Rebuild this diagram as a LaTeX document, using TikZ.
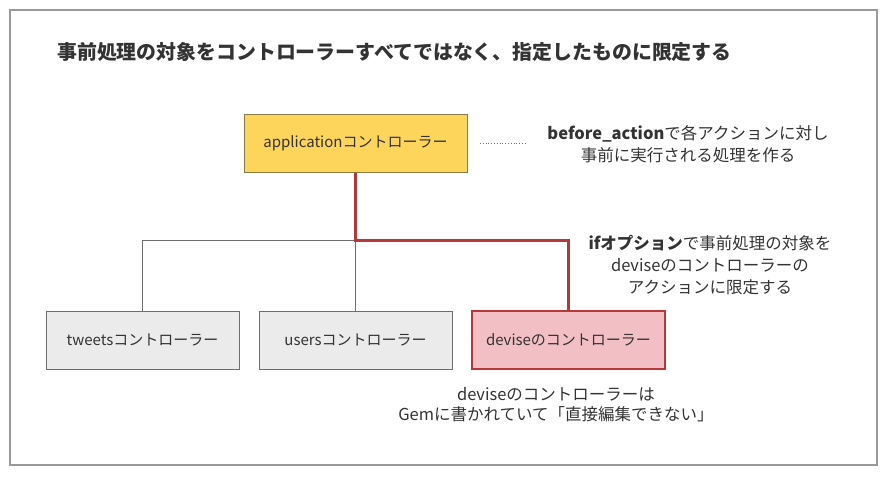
\documentclass[tikz,border=0pt]{standalone}
\usepackage{fontspec}
\setmainfont{Noto Sans CJK JP}
\definecolor{appfill}{HTML}{FCD55A}
\definecolor{appdraw}{HTML}{8C7A45}
\definecolor{grayfill}{HTML}{EBEBEB}
\definecolor{graydraw}{HTML}{6E6E6E}
\definecolor{pinkfill}{HTML}{F2BFC4}
\definecolor{reddraw}{HTML}{B5373A}
\definecolor{txt}{HTML}{333333}
\tikzset{
  box/.style={draw=graydraw, fill=grayfill, line width=1pt, minimum width=193pt, minimum height=58pt, inner sep=0pt, text=txt, font=\fontsize{15}{17}\selectfont},
  appbox/.style={box, draw=appdraw, fill=appfill, minimum width=223pt},
  devbox/.style={box, draw=reddraw, fill=pinkfill, line width=2pt},
  note/.style={align=center, text=txt, font=\fontsize{16.5}{22}\selectfont, inner sep=0pt},
  redline/.style={draw=reddraw, line width=3pt},
  grayline/.style={draw=graydraw, line width=1pt}
}
\begin{document}
\begin{tikzpicture}[x=1pt,y=-1pt]
\useasboundingbox (0,0) rectangle (887,477);
\draw[draw=gray!80, line width=1.5pt] (10,10) rectangle (877,465);
\node[anchor=west, text=txt, font=\fontsize{19.9}{23}\selectfont\bfseries, inner sep=0pt] (title) at (57,52) {事前処理の対象をコントローラーすべてではなく、指定したものに限定する};
\node[appbox] (app) at (355.5,143) {applicationコントローラー};
\node[box] (tw) at (142.5,340) {tweetsコントローラー};
\node[box] (us) at (355.5,340) {usersコントローラー};
\node[devbox] (dv) at (568.5,340) {deviseのコントローラー};
\coordinate (j) at (355.5,240);
\draw[grayline] (tw.north) |- (j) -- (us.north);
\draw[redline] (app.south) -- (j) -| (dv.north);
\node[note] (n1) at (688,144) {\textbf{before\_action}で各アクションに対し\\事前に実行される処理を作る};
\coordinate (d1) at (480,143);
\coordinate (d2) at (527,143);
\draw[graydraw, dotted, line width=0.8pt] (d1) -- (d2);
\node[note] (n2) at (710,265) {\textbf{ifオプション}で事前処理の対象を\\deviseのコントローラーの\\アクションに限定する};
\node[note, font=\fontsize{16.5}{20}\selectfont] (n3) at (556,405) {deviseのコントローラーは\\Gemに書かれていて「直接編集できない」};
\end{tikzpicture}
\end{document}
